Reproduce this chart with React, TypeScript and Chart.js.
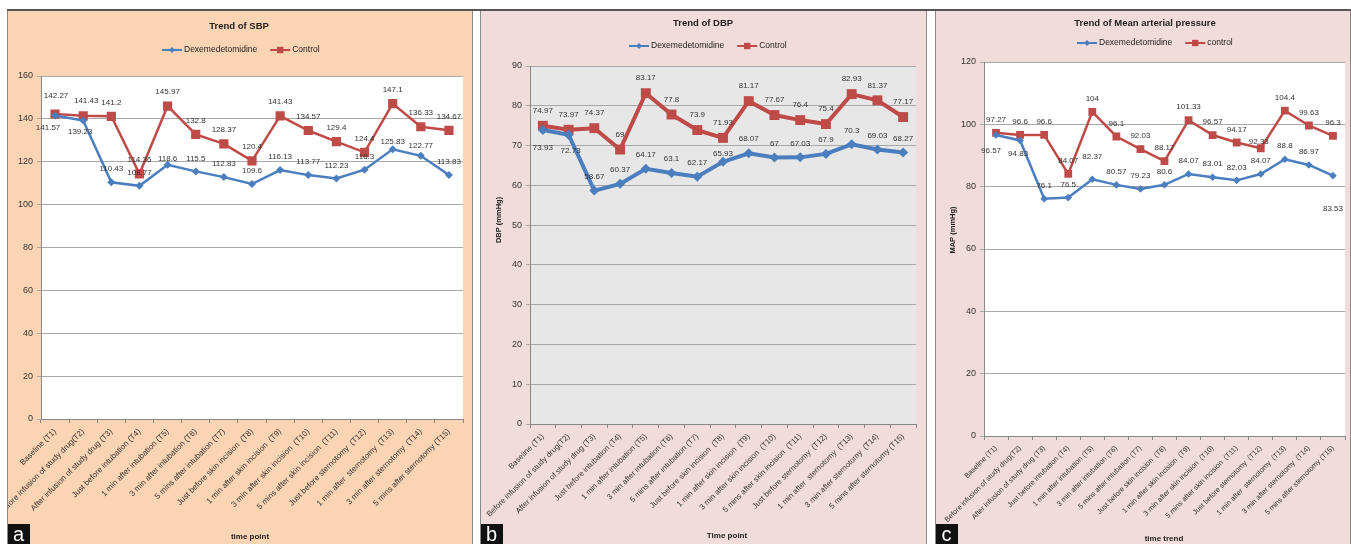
import React, { useEffect, useRef } from 'react';
import { Chart, registerables } from 'chart.js';

Chart.register(...registerables);

// ---------------- DATA ----------------
const timePoints: string[] = [
  'Baseline (T1)',
  'Before infusion of study drug(T2)',
  'After infusion of study drug (T3)',
  'Just before intubation (T4)',
  '1 min after intubation (T5)',
  '3 min after intubation (T6)',
  '5 mins after intubation (T7)',
  'Just before skin incision  (T8)',
  '1 min after skin incision  (T9)',
  '3 min after skin incision  (T10)',
  '5 mins after skin incision  (T11)',
  'Just before sternotomy  (T12)',
  '1 min after  sternotomy  (T13)',
  '3 min after sternotomy  (T14)',
  '5 mins after sternotomy (T15)',
];

const sbpDex: number[] = [141.57, 139.23, 110.43, 108.77, 118.6, 115.5, 112.83, 109.6, 116.13, 113.77, 112.23, 116.3, 125.83, 122.77, 113.83];
const sbpControl: number[] = [142.27, 141.43, 141.2, 114.36, 145.97, 132.8, 128.37, 120.4, 141.43, 134.57, 129.4, 124.4, 147.1, 136.33, 134.67];

const dbpDex: number[] = [73.93, 72.73, 58.67, 60.37, 64.17, 63.1, 62.17, 65.93, 68.07, 67, 67.03, 67.9, 70.3, 69.03, 68.27];
const dbpControl: number[] = [74.97, 73.97, 74.37, 69, 83.17, 77.8, 73.9, 71.93, 81.17, 77.67, 76.4, 75.4, 82.93, 81.37, 77.17];

const mapDex: number[] = [96.57, 94.83, 76.1, 76.5, 82.37, 80.57, 79.23, 80.6, 84.07, 83.01, 82.03, 84.07, 88.8, 86.97, 83.53];
const mapControl: number[] = [97.27, 96.6, 96.6, 84.07, 104, 96.1, 92.03, 88.17, 101.33, 96.57, 94.17, 92.33, 104.4, 99.63, 96.3];

const sbpTicks = { min: 0, max: 160, step: 20 };
const dbpTicks = { min: 0, max: 90, step: 10 };
const mapTicks = { min: 0, max: 120, step: 20 };

const seriesNames = { dex: 'Dexemedetomidine', control: 'Control', controlLower: 'control' };

// ---------------- STYLE ----------------
const FONT = "'Liberation Sans', Arial, sans-serif";
const BLUE = '#4A7EBF';
const RED = '#BE4B48';
const GRID = '#a8a8a8';
const TEXT = '#333333';

type Offsets = Record<number, [number, number]>;

interface SeriesSpec {
  name: string;
  data: number[];
  color: string;
  style: 'rect' | 'rectRot';
  radius: number;
  lineWidth: number;
  defaultDy: number;
  offsets: Offsets;
}

interface PanelSpec {
  key: string;
  left: number; top: number; width: number; height: number;
  bg: string; plotBg: string;
  plot: { left: number; right: number; top: number; bottom: number };
  title: string; titlePos: [number, number];
  legendPos: [number, number];
  xTitle: string; xTitlePos: [number, number];
  yTitle: string; yTitlePos: [number, number];
  ticks: { min: number; max: number; step: number };
  xFont: number;
  series: SeriesSpec[];
  letter: string;
}

const panels: PanelSpec[] = [
  {
    key: 'a', left: 7, top: 10, width: 466, height: 534,
    bg: '#FBD4B4', plotBg: '#FFFFFF',
    plot: { left: 34, right: 456, top: 66, bottom: 409 },
    title: 'Trend of SBP', titlePos: [232, 16],
    legendPos: [155, 40],
    xTitle: 'time point', xTitlePos: [243, 527],
    yTitle: '', yTitlePos: [0, 0],
    ticks: sbpTicks,
    xFont: 8,
    letter: 'a',
    series: [
      { name: seriesNames.dex, data: sbpDex, color: BLUE, style: 'rectRot', radius: 4, lineWidth: 2.5, defaultDy: -13,
        offsets: { 0: [-7, 12], 1: [-3, 11], 4: [0, -6], 12: [0, -7], 13: [0, -10] } },
      { name: seriesNames.control, data: sbpControl, color: RED, style: 'rect', radius: 6.5, lineWidth: 2.5, defaultDy: -14,
        offsets: { 0: [1, -18], 1: [3, -15] } },
    ],
  },
  {
    key: 'b', left: 480, top: 10, width: 447, height: 534,
    bg: '#F2DCDB', plotBg: '#E7E7E7',
    plot: { left: 50, right: 436, top: 56, bottom: 414 },
    title: 'Trend of DBP', titlePos: [223, 13],
    legendPos: [149, 36],
    xTitle: 'Time point', xTitlePos: [247, 526],
    yTitle: 'DBP (mmHg)', yTitlePos: [19, 210],
    ticks: dbpTicks,
    xFont: 7.8,
    letter: 'b',
    series: [
      { name: seriesNames.dex, data: dbpDex, color: BLUE, style: 'rectRot', radius: 5, lineWidth: 4, defaultDy: -14,
        offsets: { 0: [0, 18], 1: [2, 16], 7: [0, -8] } },
      { name: seriesNames.control, data: dbpControl, color: RED, style: 'rect', radius: 7, lineWidth: 4, defaultDy: -15,
        offsets: {} },
    ],
  },
  {
    key: 'c', left: 935, top: 10, width: 416, height: 534,
    bg: '#F2DCDB', plotBg: '#FFFFFF',
    plot: { left: 49, right: 410, top: 52, bottom: 426 },
    title: 'Trend of Mean arterial pressure', titlePos: [210, 13],
    legendPos: [142, 33],
    xTitle: 'time trend', xTitlePos: [229, 529],
    yTitle: 'MAP (mmHg)', yTitlePos: [18, 220],
    ticks: mapTicks,
    xFont: 7.2,
    letter: 'c',
    series: [
      { name: seriesNames.dex, data: mapDex, color: BLUE, style: 'rectRot', radius: 3.8, lineWidth: 2.5, defaultDy: -13,
        offsets: { 0: [-5, 16], 1: [-2, 13], 4: [0, -22], 14: [0, 33] } },
      { name: seriesNames.controlLower, data: mapControl, color: RED, style: 'rect', radius: 5.5, lineWidth: 2.5, defaultDy: -13,
        offsets: { 11: [-2, -6] } },
    ],
  },
];

function drawMarker(ctx: CanvasRenderingContext2D, style: string, x: number, y: number, r: number, color: string) {
  ctx.save();
  ctx.fillStyle = color;
  ctx.beginPath();
  if (style === 'rect') {
    const s = r * Math.SQRT1_2;
    ctx.rect(x - s, y - s, 2 * s, 2 * s);
  } else {
    ctx.moveTo(x - r, y);
    ctx.lineTo(x, y - r);
    ctx.lineTo(x + r, y);
    ctx.lineTo(x, y + r);
    ctx.closePath();
  }
  ctx.fill();
  ctx.restore();
}

function PanelChart({ spec }: { spec: PanelSpec }) {
  const ref = useRef<HTMLCanvasElement>(null);

  useEffect(() => {
    const canvas = ref.current;
    if (!canvas) return;

    const bgPlugin = {
      id: 'plotBg',
      beforeDraw(chart: any) {
        const { ctx, chartArea } = chart;
        ctx.save();
        ctx.fillStyle = spec.plotBg;
        ctx.fillRect(chartArea.left, chartArea.top, chartArea.right - chartArea.left, chartArea.bottom - chartArea.top);
        ctx.restore();
      },
    };

    const valueLabels = {
      id: 'valueLabels',
      afterDatasetsDraw(chart: any) {
        const ctx = chart.ctx as CanvasRenderingContext2D;
        ctx.save();
        ctx.font = `8px ${FONT}`;
        ctx.fillStyle = TEXT;
        ctx.textAlign = 'center';
        ctx.textBaseline = 'middle';
        spec.series.forEach((s, di) => {
          const meta = chart.getDatasetMeta(di);
          meta.data.forEach((pt: any, i: number) => {
            const off = s.offsets[i] || [0, s.defaultDy];
            ctx.fillText(String(s.data[i]), pt.x + off[0], pt.y + off[1]);
          });
        });
        ctx.restore();
      },
    };

    const texts = {
      id: 'texts',
      afterDraw(chart: any) {
        const ctx = chart.ctx as CanvasRenderingContext2D;
        ctx.save();
        ctx.fillStyle = '#222';
        ctx.textBaseline = 'middle';
        ctx.font = `bold 9.5px ${FONT}`;
        ctx.textAlign = 'center';
        ctx.fillText(spec.title, spec.titlePos[0], spec.titlePos[1]);
        ctx.font = `bold 8px ${FONT}`;
        ctx.fillText(spec.xTitle, spec.xTitlePos[0], spec.xTitlePos[1]);
        if (spec.yTitle) {
          ctx.save();
          ctx.translate(spec.yTitlePos[0], spec.yTitlePos[1]);
          ctx.rotate(-Math.PI / 2);
          ctx.font = `bold 7.5px ${FONT}`;
          ctx.fillText(spec.yTitle, 0, 0);
          ctx.restore();
        }
        ctx.font = `8.5px ${FONT}`;
        ctx.textAlign = 'left';
        let x = spec.legendPos[0];
        const y = spec.legendPos[1];
        spec.series.forEach((s) => {
          ctx.strokeStyle = s.color;
          ctx.lineWidth = 2;
          ctx.beginPath();
          ctx.moveTo(x, y);
          ctx.lineTo(x + 20, y);
          ctx.stroke();
          drawMarker(ctx, s.style, x + 10, y, s.style === 'rect' ? 4.5 : 3, s.color);
          ctx.fillStyle = '#222';
          ctx.fillText(s.name, x + 22, y);
          x += 22 + ctx.measureText(s.name).width + 13;
        });
        ctx.restore();
      },
    };

    const chart = new Chart(canvas, {
      type: 'line',
      data: {
        labels: timePoints,
        datasets: spec.series.map((s) => ({
          label: s.name,
          data: s.data,
          borderColor: s.color,
          backgroundColor: s.color,
          borderWidth: s.lineWidth,
          pointStyle: s.style,
          pointRadius: s.radius,
          pointBorderWidth: 0,
          pointBackgroundColor: s.color,
          tension: 0,
          fill: false,
        })),
      },
      options: {
        animation: false,
        responsive: false,
        maintainAspectRatio: false,
        devicePixelRatio: 1,
        events: [],
        layout: {
          autoPadding: false,
          padding: { left: 0, top: spec.plot.top, right: spec.width - spec.plot.right, bottom: 0 },
        },
        plugins: {
          legend: { display: false },
          title: { display: false },
          tooltip: { enabled: false },
        },
        scales: {
          x: {
            type: 'category',
            offset: true,
            grid: { offset: true, drawOnChartArea: false, drawTicks: true, tickLength: 4, color: '#888' },
            border: { color: '#888', width: 1 },
            ticks: {
              autoSkip: false,
              minRotation: 45,
              maxRotation: 45,
              padding: 4,
              color: TEXT,
              font: { family: FONT, size: spec.xFont },
            },
            afterFit: (sc: any) => {
              sc.height = spec.height - spec.plot.bottom;
              sc.paddingLeft = 0;
              sc.paddingRight = 0;
            },
          },
          y: {
            min: spec.ticks.min,
            max: spec.ticks.max,
            ticks: { stepSize: spec.ticks.step, color: TEXT, padding: 4, font: { family: FONT, size: 9 } },
            grid: { color: GRID, tickLength: 4, lineWidth: 1 },
            border: { color: '#888', width: 1 },
            afterFit: (sc: any) => {
              sc.width = spec.plot.left;
              sc.paddingTop = 0;
              sc.paddingBottom = 0;
            },
          },
        },
      } as any,
      plugins: [bgPlugin, valueLabels, texts],
    });

    return () => chart.destroy();
  }, [spec]);

  return (
    <div
      style={{
        position: 'absolute',
        left: spec.left,
        top: spec.top,
        width: spec.width,
        height: spec.height,
        background: spec.bg,
        overflow: 'hidden',
      }}
    >
      <canvas
        ref={ref}
        width={spec.width}
        height={spec.height}
        style={{ position: 'absolute', left: 0, top: 0, width: spec.width, height: spec.height }}
      />
      <div
        style={{
          position: 'absolute',
          left: 0,
          bottom: 0,
          width: 23,
          height: 20,
          background: '#111',
          color: '#fff',
          fontFamily: FONT,
          fontSize: 20,
          lineHeight: '20px',
          textAlign: 'center',
        }}
      >
        {spec.letter}
      </div>
      <div
        style={{
          position: 'absolute',
          left: 0,
          top: 0,
          width: spec.width,
          height: spec.height,
          boxSizing: 'border-box',
          borderLeft: '1px solid #8a8a8a',
          borderRight: '1px solid #8a8a8a',
          pointerEvents: 'none',
        }}
      />
    </div>
  );
}

export default function App() {
  return (
    <div style={{ position: 'absolute', left: 0, top: 0, width: 1351, height: 544, background: '#fff', overflow: 'hidden' }}>
      {panels.map((p) => (
        <PanelChart key={p.key} spec={p} />
      ))}
      <div style={{ position: 'absolute', left: 7, top: 9, width: 1344, height: 1.5, background: '#555' }} />
    </div>
  );
}
